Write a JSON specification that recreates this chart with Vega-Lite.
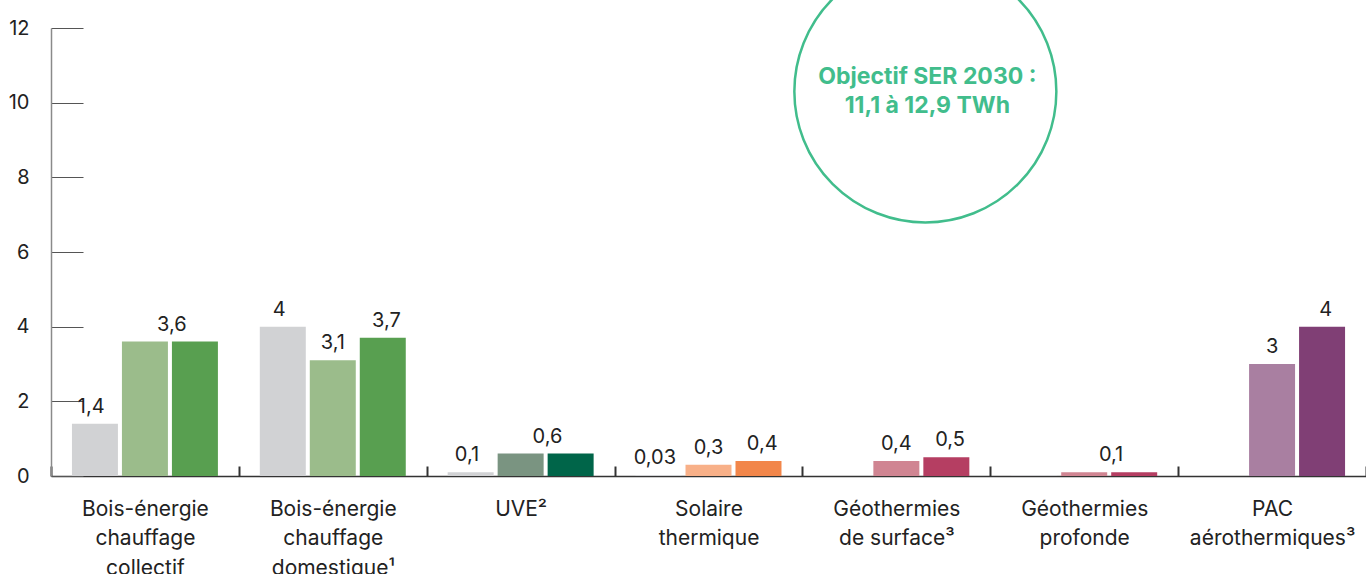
{
  "$schema": "https://vega.github.io/schema/vega-lite/v6.json",
  "autosize": "none",
  "width": 1315,
  "height": 448,
  "padding": {"left": 51, "top": 28, "right": 0, "bottom": 98},
  "background": "white",
  "config": {"view": {"stroke": null}, "font": "Inter"},
  "datasets": {
    "bars": [
      {"cat": "Bois-énergie|chauffage|collectif", "serie": "s1", "v": 1.4, "code": "gris"},
      {"cat": "Bois-énergie|chauffage|collectif", "serie": "s2", "v": 3.6, "code": "bois-clair"},
      {"cat": "Bois-énergie|chauffage|collectif", "serie": "s3", "v": 3.6, "code": "bois-fonce"},
      {"cat": "Bois-énergie|chauffage|domestique¹", "serie": "s1", "v": 4, "code": "gris"},
      {"cat": "Bois-énergie|chauffage|domestique¹", "serie": "s2", "v": 3.1, "code": "bois-clair"},
      {"cat": "Bois-énergie|chauffage|domestique¹", "serie": "s3", "v": 3.7, "code": "bois-fonce"},
      {"cat": "UVE²", "serie": "s1", "v": 0.1, "code": "gris"},
      {"cat": "UVE²", "serie": "s2", "v": 0.6, "code": "uve-clair"},
      {"cat": "UVE²", "serie": "s3", "v": 0.6, "code": "uve-fonce"},
      {"cat": "Solaire|thermique", "serie": "s1", "v": 0.03, "code": "gris"},
      {"cat": "Solaire|thermique", "serie": "s2", "v": 0.3, "code": "sol-clair"},
      {"cat": "Solaire|thermique", "serie": "s3", "v": 0.4, "code": "sol-fonce"},
      {"cat": "Géothermies|de surface³", "serie": "s2", "v": 0.4, "code": "geo-clair"},
      {"cat": "Géothermies|de surface³", "serie": "s3", "v": 0.5, "code": "geo-fonce"},
      {"cat": "Géothermies|profonde", "serie": "s1", "v": 0.02, "code": "gris"},
      {"cat": "Géothermies|profonde", "serie": "s2", "v": 0.1, "code": "geo-clair"},
      {"cat": "Géothermies|profonde", "serie": "s3", "v": 0.1, "code": "geo-fonce"},
      {"cat": "PAC|aérothermiques³", "serie": "s2", "v": 3, "code": "pac-clair"},
      {"cat": "PAC|aérothermiques³", "serie": "s3", "v": 4, "code": "pac-fonce"}
    ],
    "labels": [
      {"cat": "Bois-énergie|chauffage|collectif", "slot": "a", "v": 1.4, "txt": "1,4"},
      {"cat": "Bois-énergie|chauffage|collectif", "slot": "bc", "v": 3.6, "txt": "3,6"},
      {"cat": "Bois-énergie|chauffage|domestique¹", "slot": "a", "v": 4, "txt": "4"},
      {"cat": "Bois-énergie|chauffage|domestique¹", "slot": "b", "v": 3.1, "txt": "3,1"},
      {"cat": "Bois-énergie|chauffage|domestique¹", "slot": "c", "v": 3.7, "txt": "3,7"},
      {"cat": "UVE²", "slot": "a", "v": 0.1, "txt": "0,1"},
      {"cat": "UVE²", "slot": "bc", "v": 0.6, "txt": "0,6"},
      {"cat": "Solaire|thermique", "slot": "a", "v": 0.03, "txt": "0,03"},
      {"cat": "Solaire|thermique", "slot": "b", "v": 0.3, "txt": "0,3"},
      {"cat": "Solaire|thermique", "slot": "c", "v": 0.4, "txt": "0,4"},
      {"cat": "Géothermies|de surface³", "slot": "b", "v": 0.4, "txt": "0,4"},
      {"cat": "Géothermies|de surface³", "slot": "c", "v": 0.5, "txt": "0,5"},
      {"cat": "Géothermies|profonde", "slot": "bc", "v": 0.1, "txt": "0,1"},
      {"cat": "PAC|aérothermiques³", "slot": "b", "v": 3, "txt": "3"},
      {"cat": "PAC|aérothermiques³", "slot": "c", "v": 4, "txt": "4"}
    ],
    "objectif": [
      {"cat": "Géothermies|de surface³", "v": 10.3, "txt": "Objectif SER 2030 :\n11,1 à 12,9 TWh"}
    ]
  },
  "layer": [
    {
      "data": {"name": "bars"},
      "mark": {"type": "bar"},
      "encoding": {
        "x": {
          "field": "cat", "type": "nominal", "sort": null,
          "scale": {"paddingInner": 0, "paddingOuter": 0},
          "axis": {
            "title": null, "labelAngle": 0,
            "labelExpr": "isValid(datum.value) ? split(datum.value, '|') : ''",
            "labelFontSize": 21, "labelColor": "#222222", "labelLineHeight": 29.5,
            "labelPadding": 32, "labelBaseline": "top",
            "domainColor": "#333333", "domainWidth": 1.5,
            "tickBand": "extent", "tickSize": -10, "tickColor": "#333333", "tickWidth": 2
          }
        },
        "xOffset": {
          "field": "serie", "type": "nominal",
          "scale": {"domain": ["s1", "s2", "s3"], "paddingInner": 0.08, "paddingOuter": 0.419}
        },
        "y": {
          "field": "v", "type": "quantitative",
          "scale": {"domain": [0, 12], "nice": false},
          "axis": {
            "title": null, "values": [0, 2, 4, 6, 8, 10, 12], "grid": false,
            "labelFontSize": 20, "labelColor": "#222222", "labelPadding": 54,
            "domainColor": "#8a8a8a", "domainWidth": 1.5,
            "tickSize": -32, "tickColor": "#555555", "tickWidth": 1.2
          }
        },
        "color": {
          "field": "code", "type": "nominal", "legend": null,
          "scale": {
            "domain": ["gris", "bois-clair", "bois-fonce", "uve-clair", "uve-fonce", "sol-clair", "sol-fonce", "geo-clair", "geo-fonce", "pac-clair", "pac-fonce"],
            "range": ["#d1d2d4", "#9bbc8b", "#589f50", "#7a9481", "#006549", "#f8b088", "#f2864a", "#d08592", "#b53e62", "#a97fa1", "#803f75"]
          }
        }
      }
    },
    {
      "data": {"name": "labels"},
      "mark": {"type": "text", "fontSize": 20, "color": "#222222", "baseline": "alphabetic", "dy": -11},
      "encoding": {
        "x": {"field": "cat", "type": "nominal", "sort": null},
        "xOffset": {
          "field": "slot", "type": "nominal",
          "scale": {"type": "band", "domain": ["a", "ab", "b", "bc", "c"], "paddingInner": 0, "paddingOuter": 1.257}
        },
        "y": {"field": "v", "type": "quantitative"},
        "text": {"field": "txt"}
      }
    },
    {
      "data": {"name": "objectif"},
      "mark": {"type": "point", "shape": "circle", "filled": false, "opacity": 1, "size": 68644, "stroke": "#41bd8c", "strokeWidth": 2.5, "xOffset": 29},
      "encoding": {
        "x": {"field": "cat", "type": "nominal", "sort": null},
        "y": {"field": "v", "type": "quantitative"}
      }
    },
    {
      "data": {"name": "objectif"},
      "mark": {"type": "text", "fontSize": 23, "fontWeight": "bold", "color": "#41bd8c", "lineBreak": "\n", "lineHeight": 29, "baseline": "middle", "align": "center", "xOffset": 31, "dy": -14},
      "encoding": {
        "x": {"field": "cat", "type": "nominal", "sort": null},
        "y": {"field": "v", "type": "quantitative"},
        "text": {"field": "txt"}
      }
    }
  ],
  "resolve": {"scale": {"xOffset": "independent"}}
}
